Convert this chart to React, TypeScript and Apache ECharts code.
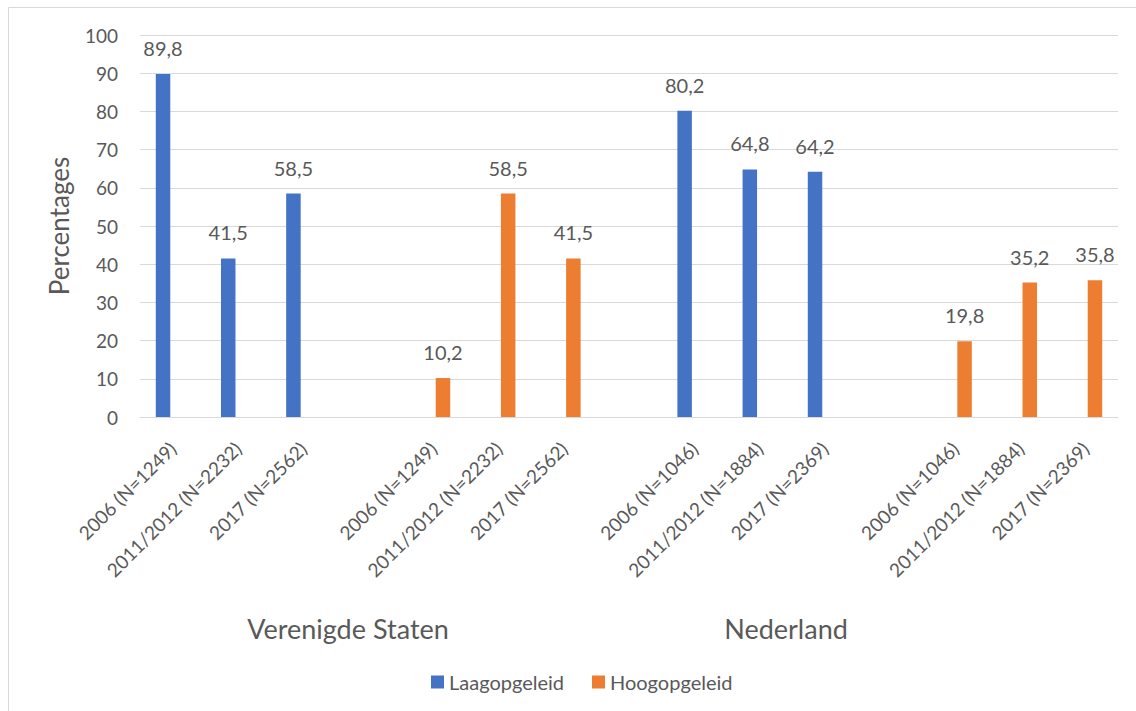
import React, { useEffect, useRef } from "react";
import * as echarts from "echarts";

// Category slots: three survey years per group, with an empty slot between groups
const categories = [
  "2006 (N=1249)", "2011/2012 (N=2232)", "2017 (N=2562)", "",
  "2006 (N=1249)", "2011/2012 (N=2232)", "2017 (N=2562)", "",
  "2006 (N=1046)", "2011/2012 (N=1884)", "2017 (N=2369)", "",
  "2006 (N=1046)", "2011/2012 (N=1884)", "2017 (N=2369)",
];

const laagopgeleid = [
  89.8, 41.5, 58.5, null,
  null, null, null, null,
  80.2, 64.8, 64.2, null,
  null, null, null,
];

const hoogopgeleid = [
  null, null, null, null,
  10.2, 58.5, 41.5, null,
  null, null, null, null,
  19.8, 35.2, 35.8,
];

const seriesNames = ["Laagopgeleid", "Hoogopgeleid"];
const countryLabels = ["Verenigde Staten", "Nederland"];
const yTicks = { min: 0, max: 100, interval: 10 };

const FONT = "Lato, 'Open Sans', sans-serif";
const TEXT = "#595959";
const GRID = "#d9d9d9";
const BLUE = "#4472C4";
const ORANGE = "#ED7D31";

const fmt = (v: number) => String(v).replace(".", ",");

export default function App() {
  const ref = useRef<HTMLDivElement>(null);

  useEffect(() => {
    if (!ref.current) return;
    const chart = echarts.init(ref.current, undefined, { renderer: "svg" });

    const barLabel = {
      show: true,
      position: "top",
      distance: 16,
      color: TEXT,
      fontFamily: FONT,
      fontSize: 20,
      formatter: (p: any) => (p.value == null ? "" : fmt(p.value)),
    };

    chart.setOption({
      animation: false,
      backgroundColor: "#ffffff",
      textStyle: { fontFamily: FONT },
      grid: { left: 140, right: 18, top: 35, bottom: 294, containLabel: false },
      legend: {
        data: seriesNames,
        left: 426,
        top: 667,
        icon: "rect",
        itemWidth: 13,
        itemHeight: 13,
        itemGap: 28,
        textStyle: { color: TEXT, fontFamily: FONT, fontSize: 20 },
      },
      xAxis: {
        type: "category",
        data: categories,
        axisLine: { show: true, lineStyle: { color: GRID, width: 1 } },
        axisTick: { show: false },
        axisLabel: {
          interval: 0,
          rotate: 45,
          margin: 28,
          color: TEXT,
          fontFamily: FONT,
          fontSize: 19,
        },
      },
      yAxis: {
        type: "value",
        min: yTicks.min,
        max: yTicks.max,
        interval: yTicks.interval,
        name: "Percentages",
        nameLocation: "middle",
        nameRotate: 90,
        nameGap: 68,
        nameTextStyle: { color: TEXT, fontFamily: FONT, fontSize: 26 },
        axisLine: { show: false },
        axisTick: { show: false },
        axisLabel: { margin: 22, color: TEXT, fontFamily: FONT, fontSize: 19 },
        splitLine: { lineStyle: { color: GRID, width: 1 } },
      },
      series: [
        {
          name: seriesNames[0],
          type: "bar",
          data: laagopgeleid,
          barWidth: 14.5,
          barGap: "32%",
          itemStyle: { color: BLUE },
          label: barLabel,
        },
        {
          name: seriesNames[1],
          type: "bar",
          data: hoogopgeleid,
          barWidth: 14.5,
          barGap: "32%",
          itemStyle: { color: ORANGE },
          label: barLabel,
        },
      ],
      graphic: [
        {
          type: "rect",
          silent: true,
          shape: { x: 8.5, y: 7.5, width: 1400, height: 900 },
          style: { fill: "none", stroke: GRID, lineWidth: 1 },
        },
        {
          type: "text",
          x: 348,
          y: 628,
          style: {
            text: countryLabels[0],
            fill: TEXT,
            font: `27px ${FONT}`,
            textAlign: "center",
            textVerticalAlign: "middle",
          },
        },
        {
          type: "text",
          x: 786,
          y: 628,
          style: {
            text: countryLabels[1],
            fill: TEXT,
            font: `27px ${FONT}`,
            textAlign: "center",
            textVerticalAlign: "middle",
          },
        },
      ],
    });

    return () => chart.dispose();
  }, []);

  return (
    <div
      ref={ref}
      style={{
        position: "absolute",
        left: 0,
        top: 0,
        width: 1136,
        height: 711,
        overflow: "hidden",
        background: "#ffffff",
      }}
    />
  );
}
